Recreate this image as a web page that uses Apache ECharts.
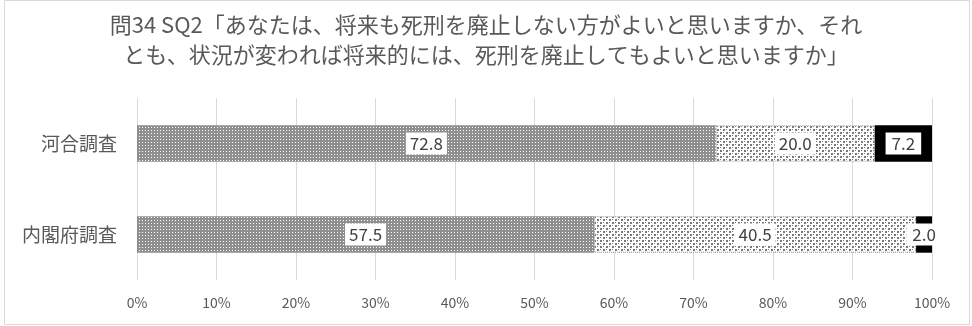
<!DOCTYPE html>
<html>
    <head>
        <meta charset="utf-8">
        <script src="https://cdn.jsdelivr.net/npm/echarts@6/dist/echarts.min.js"></script>
        <style>
            html, body { margin: 0; padding: 0; background: #fff; }
            #main { width: 972px; height: 326px; }
        </style>
    </head>
    <body>
        <div id="main"></div>
        <script>

        var titleText = '問34 SQ2「あなたは、将来も死刑を廃止しない方がよいと思いますか、それ\nとも、状況が変われば将来的には、死刑を廃止してもよいと思いますか」';
        var categories = ['河合調査', '内閣府調査'];
        var notAbolish = [72.8, 57.5];
        var mayAbolish = [20.0, 40.5];
        var unknown = [7.2, 2.0];
        var xTicks = [0, 10, 20, 30, 40, 50, 60, 70, 80, 90, 100];

        // small tiles used as fill patterns
        function tile(size, bg, dots, dotColor) {
            var c = document.createElement('canvas');
            c.width = size;
            c.height = size;
            var ctx = c.getContext('2d');
            ctx.fillStyle = bg;
            ctx.fillRect(0, 0, size, size);
            ctx.fillStyle = dotColor;
            dots.forEach(function (d) {
                ctx.fillRect(d[0], d[1], d[2] || 1, d[2] || 1);
            });
            return c;
        }

        var densePattern = tile(3, '#8f8f8f', [[1, 1]], '#ffffff');
        var sparsePattern = tile(6, '#ffffff', [[0, 0, 2], [3, 3, 2], [3, 0], [0, 3]], '#7a7a7a');

        var textColor = '#595959';
        var fontFamily = '"Noto Sans CJK JP", "Noto Sans", sans-serif';

        function valueLabel(pad) {
            return {
                show: true,
                position: 'inside',
                color: '#404040',
                fontSize: 17,
                fontFamily: fontFamily,
                backgroundColor: '#ffffff',
                padding: pad || [3, 4, 2, 4],
                formatter: function (p) {
                    return p.value.toFixed(1);
                }
            };
        }

        var myChart = echarts.init(document.getElementById('main'));

        var option = {
            animation: false,
            title: {
                text: titleText,
                left: 'center',
                top: 5,
                textStyle: {
                    color: textColor,
                    fontSize: 22,
                    fontWeight: 'normal',
                    fontFamily: fontFamily,
                    lineHeight: 30
                }
            },
            graphic: [{
                type: 'rect',
                shape: { x: 4.5, y: 0.5, width: 965, height: 324 },
                style: { fill: 'none', stroke: '#d9d9d9', lineWidth: 1 },
                silent: true
            }],
            grid: {
                left: 137,
                right: 40,
                top: 98,
                bottom: 46
            },
            xAxis: {
                type: 'value',
                min: xTicks[0],
                max: xTicks[xTicks.length - 1],
                interval: 10,
                axisLine: { show: false },
                axisTick: { show: false },
                axisLabel: {
                    color: textColor,
                    fontSize: 14,
                    fontFamily: fontFamily,
                    margin: 16,
                    formatter: '{value}%'
                },
                splitLine: {
                    lineStyle: { color: '#d9d9d9', width: 1 }
                }
            },
            yAxis: {
                type: 'category',
                data: categories,
                inverse: true,
                axisLine: { show: false },
                axisTick: { show: false },
                axisLabel: {
                    color: textColor,
                    fontSize: 19,
                    fontFamily: fontFamily,
                    margin: 20
                }
            },
            series: [
                {
                    name: '廃止しない方がよい',
                    type: 'bar',
                    stack: 'total',
                    barWidth: '40%',
                    data: notAbolish,
                    itemStyle: {
                        color: { image: densePattern, repeat: 'repeat' }
                    },
                    label: valueLabel()
                },
                {
                    name: '状況が変われば廃止してもよい',
                    type: 'bar',
                    stack: 'total',
                    data: mayAbolish,
                    itemStyle: {
                        color: { image: sparsePattern, repeat: 'repeat' },
                        borderColor: '#999999',
                        borderWidth: 1,
                        borderType: 'dotted'
                    },
                    label: valueLabel()
                },
                {
                    name: 'わからない',
                    type: 'bar',
                    stack: 'total',
                    data: unknown,
                    itemStyle: {
                        color: '#000000'
                    },
                    label: valueLabel([3, 6, 2, 6])
                }
            ]
        };

        myChart.setOption(option);

        </script>
    </body>
</html>
